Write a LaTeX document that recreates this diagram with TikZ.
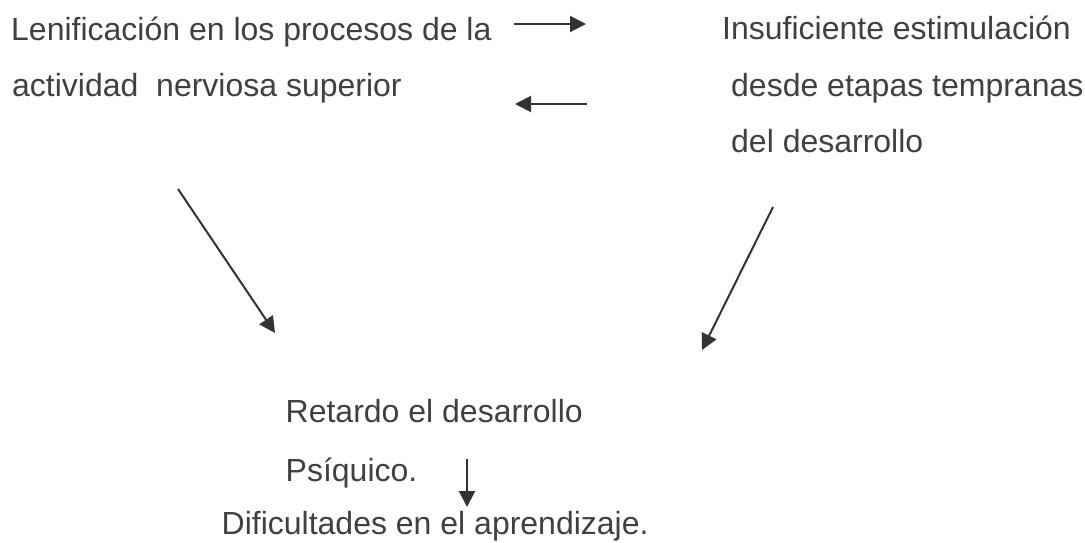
\documentclass[tikz,border=0pt]{standalone}
\usepackage{fontspec}
\setmainfont{Liberation Sans}
\usepackage{tikz}
\usetikzlibrary{calc,arrows.meta}
\definecolor{texto}{RGB}{64,64,64}
\definecolor{trazo}{RGB}{51,51,51}

\begin{document}
\begin{tikzpicture}[x=1pt, y=-1pt, flecha/.style = {draw=trazo, line width=2pt, -{Triangle[length=16pt, width=16pt]}}]
  \tikzset{every node/.style={anchor=base west, inner sep=0pt, text=texto, font=\fontsize{32}{38}\selectfont}}
  \useasboundingbox (0,0) rectangle (1085,542);
  % textos
  \node (len1) at (11,40) {Lenificación en los procesos de la};
  \node (len2) at (12,96) {actividad\ \ nerviosa superior};
  \node (ins1) at (722,39) {Insuficiente estimulación};
  \node (ins2) at (731,96) {desde etapas tempranas};
  \node (ins3) at (731,152) {del desarrollo};
  \node (ret1) at (285.5,422) {Retardo el desarrollo};
  \node (ret2) at (285.5,481) {Psíquico.};
  \node (dif)  at (221.5,534) {Dificultades en el aprendizaje.};
  % extremos de las flechas
  \coordinate (ida-a)    at (514,24);
  \coordinate (ida-b)    at (586,24);
  \coordinate (vuelta-a) at (587,104);
  \coordinate (vuelta-b) at (515,104);
  \coordinate (izq-a)    at (178,189);
  \coordinate (izq-b)    at (275,333);
  \coordinate (der-a)    at (773,207);
  \coordinate (der-b)    at (702,350);
  \coordinate (baja-a)   at (467,459);
  \coordinate (baja-b)   at (467,507);
    \path
        (ida-a) edge [flecha] (ida-b)
        (vuelta-a) edge [flecha] (vuelta-b)
        (izq-a) edge [flecha] (izq-b)
        (der-a) edge [flecha] (der-b)
        (baja-a) edge [flecha] (baja-b);
\end{tikzpicture}
\end{document}
